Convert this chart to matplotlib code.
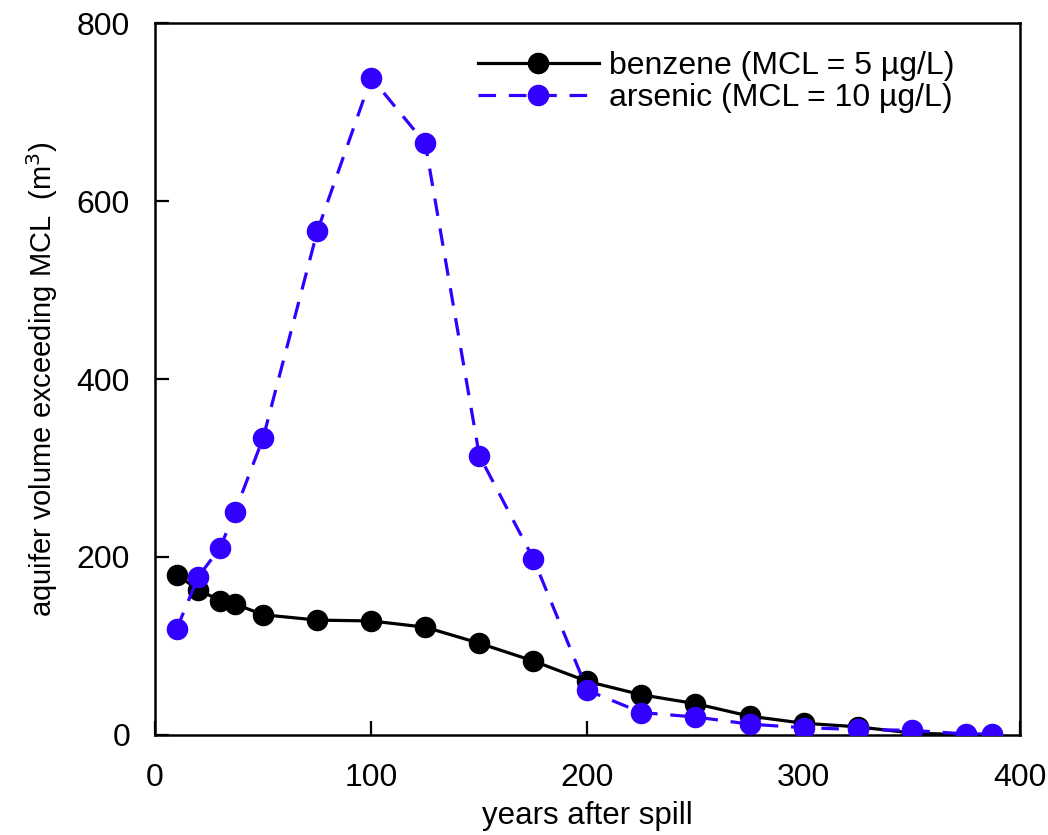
import numpy as np
import matplotlib
matplotlib.use("Agg")
import matplotlib.pyplot as plt
from matplotlib.lines import Line2D

plt.rcParams['font.family'] = ['Liberation Sans', 'DejaVu Sans']

# --- data ---
years = [10, 20, 30, 37, 50, 75, 100, 125, 150, 175, 200, 225, 250, 275, 300, 325, 350, 375, 387]
benzene = [180, 163, 151, 147, 135, 129, 128, 121, 103, 83, 60, 45, 35, 21, 13, 9, 2, 0, 0]
arsenic = [119, 178, 210, 251, 334, 566, 739, 665, 314, 198, 50, 25, 20, 12, 8, 6, 5, 1, 1]

BLUE = '#3300FF'
MS = 14.5
LW = 2.3
dash = (0, (5.5, 4))

fig = plt.figure(figsize=(10.48, 8.35), dpi=100)
ax = fig.add_axes([0.148, 0.12, 0.825, 0.852])

ax.plot(years, benzene, color='black', lw=LW, marker='o', ms=MS, zorder=3)
ax.plot(years, arsenic, color=BLUE, lw=LW, linestyle=dash, marker='o', ms=MS, zorder=4)

ax.set_xlim(0, 400)
ax.set_ylim(0, 800)
ax.set_xticks([0, 100, 200, 300, 400])
ax.set_yticks([0, 200, 400, 600, 800])
ax.tick_params(direction='in', length=10, width=1.6, labelsize=23)
ax.tick_params(axis='y', pad=18)
ax.tick_params(axis='x', pad=20)
for s in ax.spines.values():
    s.set_linewidth(1.8)

ax.set_xlabel('years after spill', fontsize=22.5, labelpad=6)
ax.set_ylabel('aquifer volume exceeding MCL  (m$^3$)', fontsize=21, labelpad=12)

handles = [
    Line2D([], [], color='black', lw=LW, marker='o', ms=MS),
    Line2D([], [], color=BLUE, lw=LW, linestyle=dash, marker='o', ms=MS),
]
ax.legend(handles, ['benzene (MCL = 5 µg/L)', 'arsenic (MCL = 10 µg/L)'],
          loc='upper left', frameon=False, fontsize=23, handlelength=3.8,
          handletextpad=0.3, labelspacing=0.05, borderpad=0, borderaxespad=0,
          bbox_to_anchor=(0.373, 0.961))

fig.savefig('out.png', dpi=100)
